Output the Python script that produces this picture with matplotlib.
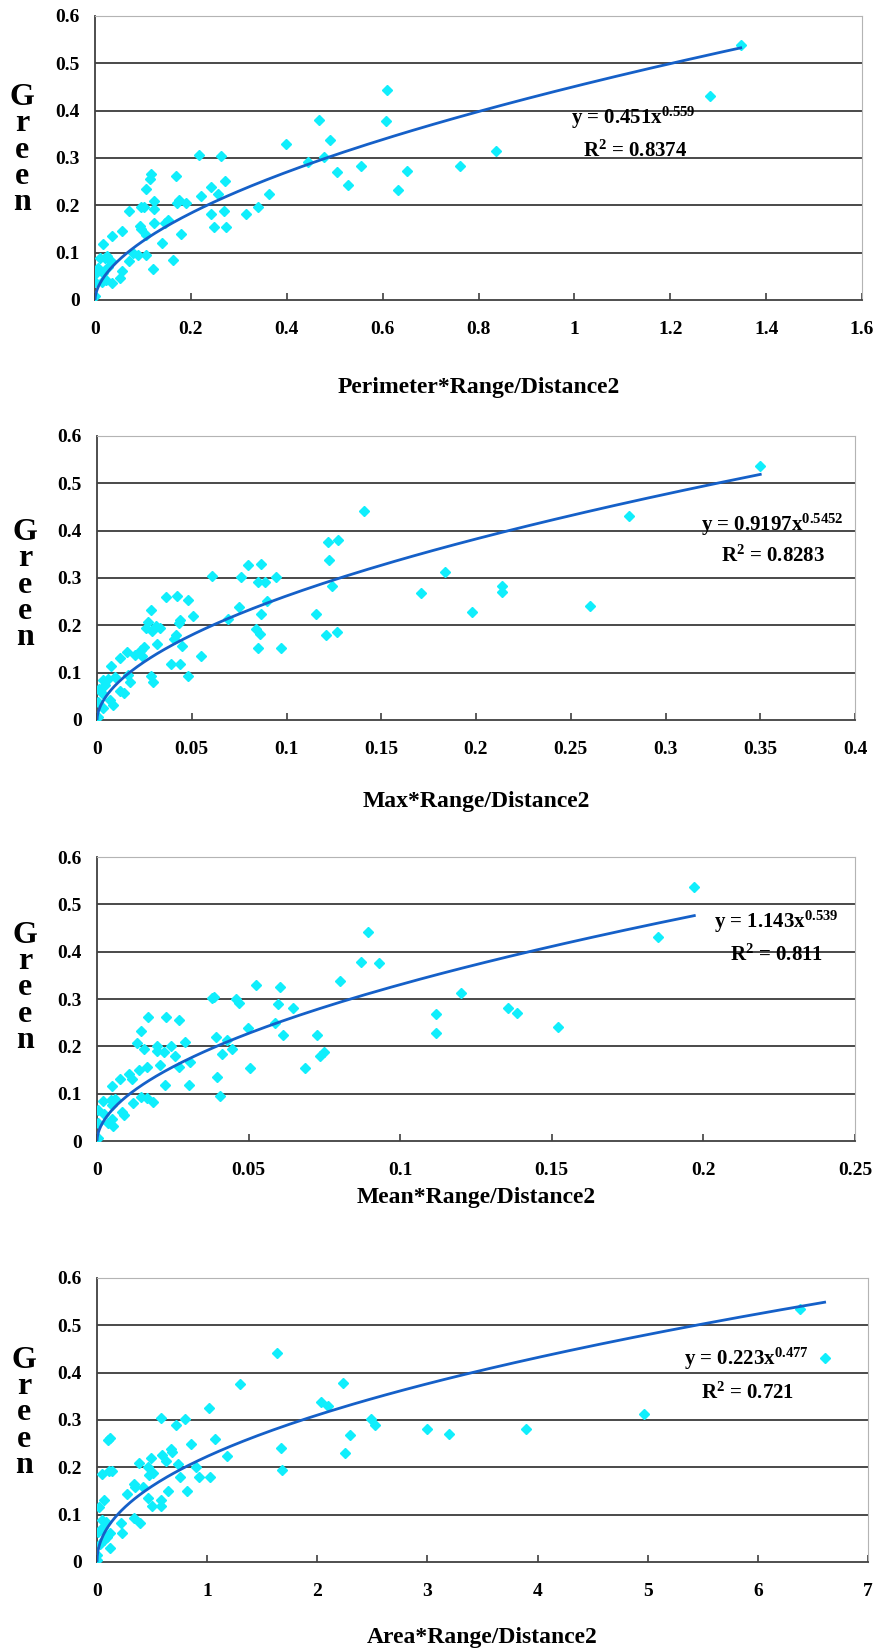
import numpy as np
import matplotlib
matplotlib.use("Agg")
import matplotlib.pyplot as plt
from matplotlib.ticker import FuncFormatter

plt.rcParams['font.family'] = ['Liberation Serif', 'DejaVu Serif']
plt.rcParams['font.weight'] = 'bold'
plt.rcParams['mathtext.fontset'] = 'custom'
plt.rcParams['mathtext.rm'] = 'Liberation Serif'
plt.rcParams['mathtext.it'] = 'Liberation Serif'
plt.rcParams['mathtext.bf'] = 'Liberation Serif:bold'
plt.rcParams['mathtext.default'] = 'rm'

# ---------- data ----------
perim_x = [0.468, 0.608, 0.490, 0.398, 0.216, 0.263, 0.445, 0.478, 0.554, 0.650,
           0.504, 0.528, 0.633, 0.117, 0.115, 0.169, 0.106, 0.271, 0.241, 0.257,
           0.222, 0.362, 0.123, 0.176, 0.172, 0.189, 0.097, 0.103, 0.123, 0.071,
           0.341, 0.316, 0.241, 0.269, 0.249, 0.273, 0.123, 0.094, 0.097, 0.153,
           0.146, 0.057, 0.035, 0.106, 0.179, 0.016, 0.139, 0.080, 0.089, 0.106,
           0.162, 0.070, 0.026, 0.021, 0.010, 0.033, 0.120, 0.057, 0.052, 0.028,
           0.007, 0.002, 0.017, 0.023, 0.035, 0.001, 0.014, 0.001, 0.610, 1.283,
           1.347, 0.836, 0.762]
perim_y = [0.380, 0.378, 0.339, 0.330, 0.306, 0.304, 0.292, 0.303, 0.284, 0.273,
           0.270, 0.242, 0.232, 0.266, 0.256, 0.262, 0.234, 0.251, 0.239, 0.225,
           0.220, 0.225, 0.210, 0.211, 0.204, 0.204, 0.196, 0.196, 0.193, 0.188,
           0.196, 0.182, 0.181, 0.187, 0.154, 0.154, 0.162, 0.156, 0.151, 0.168,
           0.162, 0.146, 0.135, 0.137, 0.139, 0.118, 0.120, 0.099, 0.095, 0.095,
           0.085, 0.082, 0.092, 0.088, 0.088, 0.082, 0.065, 0.062, 0.046, 0.070,
           0.067, 0.056, 0.056, 0.042, 0.035, 0.037, 0.037, 0.008, 0.443, 0.432,
           0.538, 0.314, 0.283]

max_x = [0.1217, 0.127, 0.1222, 0.0799, 0.0865, 0.0609, 0.0760, 0.0947, 0.0849, 0.0884,
         0.124, 0.171, 0.0363, 0.0422, 0.048, 0.0283, 0.0751, 0.0509, 0.0897, 0.0689,
         0.0865, 0.1158, 0.044, 0.0434, 0.0269, 0.0256, 0.031, 0.0331, 0.0292, 0.084,
         0.0861, 0.1208, 0.1265, 0.0416, 0.0407, 0.0315, 0.0447, 0.0247, 0.0230, 0.0203,
         0.0158, 0.0238, 0.055, 0.0852, 0.0972, 0.0123, 0.039, 0.044, 0.0075, 0.0479,
         0.0283, 0.0297, 0.0162, 0.0176, 0.0096, 0.006, 0.0034, 0.0043, 0.0012, 0.0119,
         0.0141, 0.0025, 0.007, 0.0087, 0.0005, 0.0034, 0.0003, 0.1409, 0.350, 0.281,
         0.1836, 0.198, 0.2136, 0.2136, 0.260]
max_y = [0.377, 0.380, 0.338, 0.327, 0.330, 0.305, 0.302, 0.302, 0.291, 0.291,
         0.283, 0.269, 0.260, 0.263, 0.254, 0.233, 0.238, 0.219, 0.251, 0.213,
         0.224, 0.224, 0.212, 0.205, 0.207, 0.194, 0.198, 0.194, 0.187, 0.193,
         0.182, 0.180, 0.185, 0.180, 0.171, 0.160, 0.157, 0.154, 0.148, 0.138,
         0.143, 0.136, 0.136, 0.152, 0.152, 0.132, 0.119, 0.119, 0.115, 0.094,
         0.092, 0.081, 0.095, 0.080, 0.090, 0.086, 0.085, 0.074, 0.065, 0.062,
         0.057, 0.057, 0.042, 0.032, 0.037, 0.025, 0.006, 0.442, 0.537, 0.431,
         0.312, 0.229, 0.283, 0.270, 0.240]

mean_x = [0.0894, 0.0872, 0.093, 0.080, 0.0525, 0.0605, 0.0379, 0.0387, 0.0458, 0.0467,
          0.0596, 0.0646, 0.0167, 0.0228, 0.0271, 0.0145, 0.0497, 0.0586, 0.0392, 0.0428,
          0.0613, 0.0726, 0.0132, 0.0289, 0.0197, 0.0244, 0.0155, 0.0197, 0.022, 0.0412,
          0.0445, 0.0258, 0.0748, 0.0735, 0.0307, 0.0269, 0.0208, 0.0166, 0.014, 0.0107,
          0.0117, 0.0076, 0.0395, 0.0506, 0.0687, 0.0225, 0.0305, 0.0051, 0.0406, 0.0145,
          0.0166, 0.0184, 0.012, 0.0021, 0.0045, 0.0059, 0.0048, 0.0084, 0.009, 0.0004,
          0.0023, 0.0048, 0.0052, 0.0037, 0.0003, 0.0002, 0.197, 0.185, 0.120, 0.1118,
          0.1118, 0.1354, 0.1384, 0.152]
mean_y = [0.442, 0.379, 0.377, 0.338, 0.330, 0.326, 0.303, 0.305, 0.301, 0.291,
          0.289, 0.282, 0.261, 0.263, 0.255, 0.233, 0.238, 0.249, 0.219, 0.213,
          0.224, 0.224, 0.208, 0.210, 0.201, 0.201, 0.194, 0.191, 0.187, 0.183,
          0.194, 0.180, 0.187, 0.180, 0.166, 0.157, 0.161, 0.156, 0.149, 0.142,
          0.132, 0.132, 0.136, 0.154, 0.154, 0.118, 0.118, 0.116, 0.095, 0.094,
          0.090, 0.082, 0.080, 0.085, 0.087, 0.089, 0.076, 0.062, 0.055, 0.065,
          0.057, 0.046, 0.032, 0.039, 0.037, 0.006, 0.537, 0.431, 0.313, 0.268,
          0.229, 0.282, 0.271, 0.240]

area_x = [1.632, 1.298, 2.231, 1.021, 2.033, 2.100, 0.581, 0.796, 0.720, 2.489,
          2.526, 3.0, 0.103, 0.119, 1.070, 2.298, 0.857, 1.669, 2.252, 0.675,
          0.681, 0.589, 0.629, 0.489, 1.176, 0.377, 0.462, 0.508, 0.468, 0.736,
          0.903, 0.751, 0.927, 1.684, 1.024, 0.043, 0.109, 0.134, 0.340, 0.347,
          0.416, 0.271, 0.641, 0.818, 0.459, 0.581, 0.498, 0.584, 0.067, 0.018,
          0.340, 0.386, 0.219, 0.231, 0.043, 0.082, 0.058, 0.119, 0.012, 0.094,
          0.119, 0.027, 0.067, 0.003, 0.001, 6.385, 6.606, 4.97, 3.197, 3.896]
area_y = [0.442, 0.376, 0.379, 0.326, 0.339, 0.330, 0.304, 0.302, 0.289, 0.302,
          0.289, 0.282, 0.258, 0.263, 0.260, 0.268, 0.249, 0.240, 0.230, 0.238,
          0.233, 0.226, 0.214, 0.219, 0.224, 0.210, 0.200, 0.189, 0.184, 0.206,
          0.200, 0.180, 0.180, 0.194, 0.179, 0.185, 0.193, 0.193, 0.165, 0.158,
          0.159, 0.144, 0.151, 0.151, 0.135, 0.132, 0.118, 0.118, 0.132, 0.117,
          0.092, 0.082, 0.083, 0.061, 0.089, 0.085, 0.075, 0.062, 0.064, 0.052,
          0.029, 0.039, 0.046, 0.015, 0.004, 0.535, 0.431, 0.312, 0.270, 0.281]

x_labels = ["Perimeter*Range/Distance2", "Max*Range/Distance2",
            "Mean*Range/Distance2", "Area*Range/Distance2"]
fit_a = [0.451, 0.9197, 1.143, 0.223]
fit_b = [0.559, 0.5452, 0.539, 0.477]
eq_a_txt = ["0.451", "0.9197", "1.143", "0.223"]
eq_b_txt = ["0.559", "0.5452", "0.539", "0.477"]
r2_txt = ["0.8374", "0.8283", "0.811", "0.721"]
x_max = [1.6, 0.4, 0.25, 7]
x_step = [0.2, 0.05, 0.05, 1]

xs = [perim_x, max_x, mean_x, area_x]
ys = [perim_y, max_y, mean_y, area_y]

# ---------- layout (pixels of the 879x1652 picture) ----------
W, H = 879, 1652
boxes = [(95, 862, 16, 300), (97, 855, 436, 720), (97, 855, 857, 1141), (97, 868, 1278, 1562)]
xlabel_y = [388, 801, 1198, 1637]
green_y = [0.528, 0.475, 0.539, 0.525]
eq_pos = [(633, 118, 635, 151), (772, 525, 773, 556), (776, 922, 777, 955), (746, 1359, 747, 1393)]

fig = plt.figure(figsize=(W / 100, H / 100), dpi=100)

for i in range(4):
    l, r, t, b = boxes[i]
    ax = fig.add_axes([l / W, 1 - b / H, (r - l) / W, (b - t) / H])
    x = np.array(xs[i])
    y = np.array(ys[i])
    ax.plot(x, y, linestyle="none", marker="D", ms=5, color="#10eefc", mec="#10eefc", zorder=3)

    # power trendline as printed on the chart
    xx = np.concatenate([[0], np.geomspace(x.max() * 1e-4, x.max(), 300)])
    ax.plot(xx, fit_a[i] * xx ** fit_b[i], color="#1560c8", lw=2.0, zorder=4)

    ax.set_xlim(0, x_max[i])
    ax.set_ylim(0, 0.6)
    ax.set_xticks(np.arange(0, x_max[i] + x_step[i] / 2, x_step[i]))
    ax.set_yticks(np.arange(0, 0.61, 0.1))
    fmt = FuncFormatter(lambda v, p: "%g" % round(v, 4))
    ax.xaxis.set_major_formatter(fmt)
    ax.yaxis.set_major_formatter(fmt)
    ax.tick_params(axis="x", direction="in", length=5, width=1.2, color="#404040",
                   pad=15, labelsize=14)
    ax.tick_params(axis="y", length=0, pad=11, labelsize=14)
    for lab in ax.get_xticklabels() + ax.get_yticklabels():
        lab.set_fontweight("bold")

    for v in np.arange(0.1, 0.55, 0.1):
        ax.axhline(v, color="#3a3a3a", lw=1.3, zorder=1)
    ax.spines["left"].set_color("#404040")
    ax.spines["bottom"].set_color("#404040")
    ax.spines["left"].set_linewidth(1.3)
    ax.spines["bottom"].set_linewidth(1.3)
    ax.spines["top"].set_color("#b4b4b4")
    ax.spines["right"].set_color("#b4b4b4")

    # vertical "Green" label, one letter per line
    ax.text(-0.095, green_y[i], "G\nr\ne\ne\nn", transform=ax.transAxes,
            ha="center", va="center", multialignment="center", linespacing=0.88,
            fontsize=23, fontweight="bold")

    fig.text((l + r) / 2 / W, 1 - xlabel_y[i] / H, x_labels[i], ha="center", va="center",
             fontsize=17, fontweight="bold")

    ex, ey, rx, ry = eq_pos[i]
    fig.text(ex / W, 1 - ey / H, r"y = %sx$^{%s}$" % (eq_a_txt[i], eq_b_txt[i]),
             ha="center", va="center", fontsize=15, fontweight="bold")
    fig.text(rx / W, 1 - ry / H, r"R$^{2}$ = %s" % r2_txt[i],
             ha="center", va="center", fontsize=15, fontweight="bold")

fig.savefig("out.png", dpi=100)
